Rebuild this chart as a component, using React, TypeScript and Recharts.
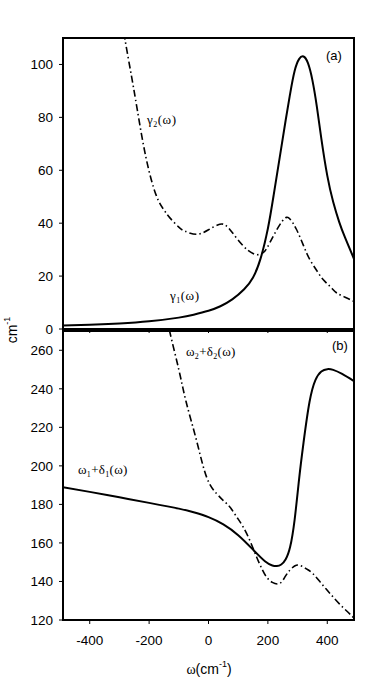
import React from 'react';
import { LineChart, Line, XAxis, YAxis, ReferenceArea } from 'recharts';

// ---- Data ----
const xTicks = [-400, -200, 0, 200, 400];
const topTicks = [0, 20, 40, 60, 80, 100];
const bottomTicks = [120, 140, 160, 180, 200, 220, 240, 260];

// panel (a): gamma1 (solid)
const gamma1W = [-490, -400, -300, -200, -100, -50, 0, 40, 80, 120, 150, 175, 200, 220, 240, 260, 275, 290, 305, 320, 335, 350, 365, 380, 400, 420, 440, 460, 490];
const gamma1V = [1.3, 1.6, 2.1, 2.9, 4.3, 5.4, 6.9, 8.6, 11.2, 15, 19.5, 26.5, 38, 51, 65, 79, 89, 97.5, 102, 103, 100.5, 94, 84, 72, 58, 48, 40.5, 34.5, 26.5];

// panel (a): gamma2 (dash-dot)
const gamma2W = [-330, -300, -282, -260, -240, -210, -176, -150, -130, -100, -80, -40, 0, 38, 60, 80, 117, 150, 173, 190, 207, 230, 250, 263, 275, 296, 320, 341, 365, 386, 410, 431, 460, 490];
const gamma2V = [150, 124, 110, 96, 83, 64.5, 50.5, 45, 42, 38.5, 37, 35.8, 37.5, 39.6, 39, 36.5, 31.4, 28.5, 28.2, 29.5, 32.7, 37.5, 41, 42.2, 41.5, 37.7, 31.5, 26.3, 22, 18.7, 16, 13.7, 12, 10.4];

// panel (b): omega1 + delta1 (solid)
const shift1W = [-490, -400, -300, -200, -100, -50, 0, 50, 100, 150, 190, 215, 230, 245, 260, 275, 290, 305, 320, 340, 360, 380, 400, 420, 450, 490];
const shift1V = [188.9, 186.5, 183.7, 180.8, 177.8, 175.9, 173.4, 169.6, 164, 156.5, 150.5, 148.3, 148, 148.8, 151.5, 158, 172, 193, 212, 233, 244.5, 249, 250.2, 249.8, 247.7, 244];

// panel (b): omega2 + delta2 (dash-dot)
const shift2W = [-170, -150, -131, -100, -75, -40, -6, 28, 50, 72, 95, 117, 140, 162, 180, 195, 215, 240, 258, 274, 290, 307, 330, 352, 380, 409, 440, 470, 490];
const shift2V = [300, 285, 270, 250, 233, 213, 194, 185.5, 182, 178.6, 173.5, 168.2, 161, 152.7, 146.5, 142.4, 139.5, 139, 142.5, 145.8, 148, 148.4, 146.5, 144, 139, 133.8, 128.5, 124, 121];

const build = (w: number[], v: number[]) => w.map((x, i) => ({ x, y: v[i] }));
const gamma1 = build(gamma1W, gamma1V);
const gamma2 = build(gamma2W, gamma2V);
const shift1 = build(shift1W, shift1V);
const shift2 = build(shift2W, shift2V);

const X_DOMAIN: [number, number] = [-490, 490];
const TOP_DOMAIN: [number, number] = [0, 110];
const BOTTOM_DOMAIN: [number, number] = [120, 270];

const SANS = '"Liberation Sans", Arial, sans-serif';
const SERIF = '"Liberation Serif", "Times New Roman", serif';
const tickStyle = { fill: '#000', fontSize: 13.5, fontFamily: SANS };
const DASHDOT = '7 3 1.5 3';

export default function App() {
  return (
    <div style={{ position: 'absolute', left: 0, top: 0, width: 374, height: 679, background: '#fff' }}>
      <div style={{ position: 'absolute', left: 0, top: 0 }}>
        <LineChart width={374} height={340} margin={{ top: 38, right: 20, bottom: 0, left: 0 }}>
          <XAxis
            type="number"
            dataKey="x"
            domain={X_DOMAIN}
            ticks={xTicks}
            allowDataOverflow
            height={11}
            tickSize={4}
            tickFormatter={() => ''}
            axisLine={{ stroke: '#000', strokeWidth: 2 }}
            tickLine={{ stroke: '#000', strokeWidth: 1 }}
          />
          <YAxis
            type="number"
            domain={TOP_DOMAIN}
            ticks={topTicks}
            allowDataOverflow
            width={63}
            tickSize={4}
            tickMargin={6}
            tick={tickStyle}
            axisLine={{ stroke: '#000', strokeWidth: 2 }}
            tickLine={{ stroke: '#000', strokeWidth: 1 }}
          />
          <ReferenceArea x1={-490} x2={490} y1={0} y2={110} fill="none" fillOpacity={0} stroke="#000" strokeWidth={2} />
          <Line data={gamma2} dataKey="y" type="natural" stroke="#000" strokeWidth={1.6} strokeDasharray={DASHDOT} dot={false} isAnimationActive={false} />
          <Line data={gamma1} dataKey="y" type="natural" stroke="#000" strokeWidth={2} dot={false} isAnimationActive={false} />
        </LineChart>
      </div>
      <div style={{ position: 'absolute', left: 0, top: 320 }}>
        <LineChart width={374} height={359} margin={{ top: 11, right: 20, bottom: 0, left: 0 }}>
          <XAxis
            type="number"
            dataKey="x"
            domain={X_DOMAIN}
            ticks={xTicks}
            allowDataOverflow
            height={59}
            tickSize={4}
            tickMargin={11}
            tick={tickStyle}
            axisLine={{ stroke: '#000', strokeWidth: 2 }}
            tickLine={{ stroke: '#000', strokeWidth: 1 }}
          />
          <YAxis
            type="number"
            domain={BOTTOM_DOMAIN}
            ticks={bottomTicks}
            allowDataOverflow
            width={63}
            tickSize={4}
            tickMargin={6}
            tick={tickStyle}
            axisLine={{ stroke: '#000', strokeWidth: 2 }}
            tickLine={{ stroke: '#000', strokeWidth: 1 }}
          />
          <ReferenceArea x1={-490} x2={490} y1={120} y2={270} fill="none" fillOpacity={0} stroke="#000" strokeWidth={2} />
          <Line data={shift2} dataKey="y" type="natural" stroke="#000" strokeWidth={1.6} strokeDasharray={DASHDOT} dot={false} isAnimationActive={false} />
          <Line data={shift1} dataKey="y" type="natural" stroke="#000" strokeWidth={2} dot={false} isAnimationActive={false} />
        </LineChart>
      </div>
      <svg width={374} height={679} style={{ position: 'absolute', left: 0, top: 0, pointerEvents: 'none' }}>
        <text x={326} y={59.5} fontFamily={SANS} fontSize={13} fill="#000">(a)</text>
        <text x={332} y={350} fontFamily={SANS} fontSize={13} fill="#000">(b)</text>
        <text x={147} y={124} fontFamily={SERIF} fontSize={13} fill="#000" letterSpacing={0.5}>
          γ<tspan fontSize={8} dy={3}>2</tspan><tspan dy={-3}>(ω)</tspan>
        </text>
        <text x={170} y={300} fontFamily={SERIF} fontSize={13} fill="#000" letterSpacing={0.5}>
          γ<tspan fontSize={8} dy={3}>1</tspan><tspan dy={-3}>(ω)</tspan>
        </text>
        <text x={78} y={474} fontFamily={SERIF} fontSize={13} fill="#000" letterSpacing={0.3}>
          ω<tspan fontSize={8} dy={3}>1</tspan><tspan dy={-3}>+δ</tspan><tspan fontSize={8} dy={3}>1</tspan><tspan dy={-3}>(ω)</tspan>
        </text>
        <text x={186} y={356} fontFamily={SERIF} fontSize={13} fill="#000" letterSpacing={0.3}>
          ω<tspan fontSize={8} dy={3}>2</tspan><tspan dy={-3}>+δ</tspan><tspan fontSize={8} dy={3}>2</tspan><tspan dy={-3}>(ω)</tspan>
        </text>
        <text x={16.5} y={330} transform="rotate(-90 16.5 330)" textAnchor="middle" fontFamily={SANS} fontSize={14} fill="#000">
          cm<tspan fontSize={9} dy={-7}>-1</tspan>
        </text>
        <text x={209} y={674} textAnchor="middle" fill="#000" fontSize={14} fontFamily={SANS}>
          <tspan fontFamily={SERIF} fontSize={14}>ω</tspan>(cm<tspan fontSize={9} dy={-7}>-1</tspan><tspan dy={7}>)</tspan>
        </text>
      </svg>
    </div>
  );
}
